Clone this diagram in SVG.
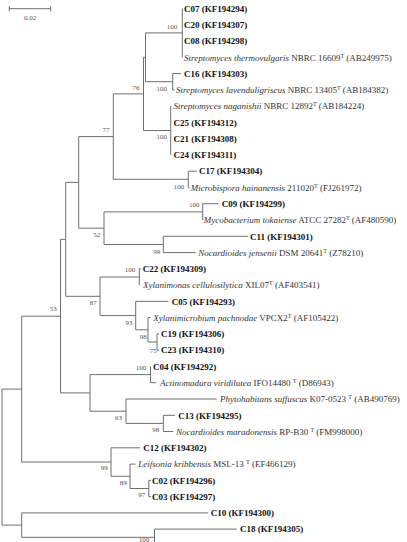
<svg xmlns="http://www.w3.org/2000/svg" width="407" height="542" viewBox="0 0 407 542">
<style>
text{font-family:"Liberation Serif","Times New Roman",serif;font-size:9px;fill:#333}
.b{font-weight:bold;fill:#111}
.i{font-style:italic}
.bs{font-size:7px;fill:#555;text-anchor:end}
.e{stroke:#6e6e6e;stroke-width:1;fill:none}
.sup{font-size:6px}
</style>
<rect width="407" height="542" fill="#fff"/>
<g id="scalebar">
<path class="e" d="M9.3,8.7H50.7M9.3,6V11.4M50.7,6V11.4"/>
<text x="30" y="19.5" style="font-size:7px;fill:#555" text-anchor="middle">0.02</text>
</g>
<g id="connectors">
<path class="e" d="M182.3,8.5V57.3"/>
<path class="e" d="M172.7,73.6V89.9M172.7,73.6H181M172.7,89.9H174.5"/>
<path class="e" d="M145.5,32.9V81.7M145.5,32.9H182.3M145.5,81.7H172.7"/>
<path class="e" d="M170.7,106.1V154.9"/>
<path class="e" d="M143.5,57.3V130.5M143.5,57.3H145.5M143.5,130.5H170.7"/>
<path class="e" d="M188.3,171.2V187.5M188.3,171.2H197M188.3,187.5H189.5"/>
<path class="e" d="M113.3,93.9V179.3M113.3,93.9H143.5M113.3,179.3H188.3"/>
<path class="e" d="M202.7,203.7V220M202.7,203.7H218.3"/>
<path class="e" d="M163.3,236.3V252.6M163.3,236.3H248.3M163.3,252.6H195.7"/>
<path class="e" d="M104,211.9V244.5M104,211.9H202.7M104,244.5H163.3"/>
<path class="e" d="M78.7,136.6V228.2M78.7,136.6H113.3M78.7,228.2H104"/>
<path class="e" d="M139.3,268.8V285.1M139.3,268.8H141"/>
<path class="e" d="M157,333.9V350.2M157,333.9H159M157,350.2H159"/>
<path class="e" d="M148,317.6V342M148,317.6H150.5M148,342H157"/>
<path class="e" d="M135.7,301.4V329.8M135.7,301.4H168.3M135.7,329.8H148"/>
<path class="e" d="M100,277V315.6M100,277H139.3M100,315.6H135.7"/>
<path class="e" d="M65.7,182.4V296.3M65.7,182.4H78.7M65.7,296.3H100"/>
<path class="e" d="M150.5,366.4V382.7M150.5,382.7H156"/>
<path class="e" d="M163.3,415.3V431.5M163.3,415.3H175M163.3,431.5H173.3"/>
<path class="e" d="M126,399V423.4M126,399H216.7M126,423.4H163.3"/>
<path class="e" d="M90,374.6V411.2M90,374.6H150.5M90,411.2H126"/>
<path class="e" d="M60.5,239.4V392.9M60.5,239.4H65.7M60.5,392.9H90"/>
<path class="e" d="M148.8,480.3V496.6M148.8,480.3H151M148.8,496.6H151"/>
<path class="e" d="M130,464.1V488.5M130,464.1H135.5M130,488.5H148.8"/>
<path class="e" d="M111,447.8V476.3M111,447.8H140M111,476.3H130"/>
<path class="e" d="M21.7,316.2V462M21.7,316.2H60.5M21.7,462H111"/>
<path class="e" d="M154.5,529.1V546M154.5,529.1H236.7"/>
<path class="e" d="M21.7,512.9V537.3M21.7,512.9H208.3M21.7,537.3H154.5"/>
<path class="e" d="M2,389.1V525.1M2,389.1H21.7M2,525.1H21.7"/>
</g>
<g id="bootstrap">
<text class="bs" x="177.3" y="28.5">100</text>
<text class="bs" x="167" y="90.8">100</text>
<text class="bs" x="167" y="139">100</text>
<text class="bs" x="139.5" y="89.5">76</text>
<text class="bs" x="109.5" y="131.5">77</text>
<text class="bs" x="184.3" y="188.5">100</text>
<text class="bs" x="199.6" y="207">100</text>
<text class="bs" x="160.2" y="253.5">99</text>
<text class="bs" x="100.2" y="236.8">52</text>
<text class="bs" x="135.3" y="271.5">100</text>
<text class="bs" x="96.8" y="304.8">87</text>
<text class="bs" x="132.5" y="325.2">93</text>
<text class="bs" x="146.8" y="338.5">98</text>
<text class="bs" x="156.8" y="352.5">75</text>
<text class="bs" x="56.8" y="310.8">53</text>
<text class="bs" x="146.3" y="370.2">100</text>
<text class="bs" x="122" y="419.5">63</text>
<text class="bs" x="159.2" y="431.8">98</text>
<text class="bs" x="107.8" y="470.2">99</text>
<text class="bs" x="126.8" y="484.5">89</text>
<text class="bs" x="145.2" y="497">97</text>
<text class="bs" x="149.3" y="541.5">100</text>
</g>
<g id="C07"><text class="b" x="184" y="11.7">C07 (KF194294)</text></g>
<g id="C20"><text class="b" x="184" y="28">C20 (KF194307)</text></g>
<g id="C08"><text class="b" x="184" y="44.2">C08 (KF194298)</text></g>
<g id="S_thermovulgaris"><text x="184" y="60.5"><tspan class="i">Streptomyces thermovulgaris</tspan> NBRC 16609<tspan class="sup" dy="-3">T</tspan><tspan dy="3"> (AB249975)</tspan></text></g>
<g id="C16"><text class="b" x="184" y="76.8">C16 (KF194303)</text></g>
<g id="S_lavenduligriseus"><text x="176" y="93.1"><tspan class="i">Streptomyces lavenduligriseus</tspan> NBRC 13405<tspan class="sup" dy="-3">T</tspan><tspan dy="3"> (AB184382)</tspan></text></g>
<g id="S_naganishii"><text x="173.5" y="109.3"><tspan class="i">Streptomyces naganishii</tspan> NBRC 12892<tspan class="sup" dy="-3">T</tspan><tspan dy="3"> (AB184224)</tspan></text></g>
<g id="C25"><text class="b" x="173.5" y="125.6">C25 (KF194312)</text></g>
<g id="C21"><text class="b" x="173.5" y="141.9">C21 (KF194308)</text></g>
<g id="C24"><text class="b" x="173.5" y="158.1">C24 (KF194311)</text></g>
<g id="C17"><text class="b" x="199" y="174.4">C17 (KF194304)</text></g>
<g id="M_hainanensis"><text x="190.7" y="190.7"><tspan class="i">Microbispora hainanensis</tspan> 211020<tspan class="sup" dy="-3">T</tspan><tspan dy="3"> (FJ261972)</tspan></text></g>
<g id="C09"><text class="b" x="221.7" y="206.9">C09 (KF194299)</text></g>
<g id="M_tokaiense"><text x="203.7" y="223.2"><tspan class="i">Mycobacterium tokaiense</tspan> ATCC 27282<tspan class="sup" dy="-3">T</tspan><tspan dy="3"> (AF480590)</tspan></text></g>
<g id="C11"><text class="b" x="250" y="239.5">C11 (KF194301)</text></g>
<g id="N_jensenii"><text x="198.3" y="255.8"><tspan class="i">Nocardioides jensenii</tspan> DSM 20641<tspan class="sup" dy="-3">T</tspan><tspan dy="3"> (Z78210)</tspan></text></g>
<g id="C22"><text class="b" x="142.7" y="272">C22 (KF194309)</text></g>
<g id="X_cellulosilytica"><text x="143" y="288.3"><tspan class="i">Xylanimonas cellulosilytica</tspan> XIL07<tspan class="sup" dy="-3">T</tspan><tspan dy="3"> (AF403541)</tspan></text></g>
<g id="C05"><text class="b" x="171.7" y="304.6">C05 (KF194293)</text></g>
<g id="X_pachnodae"><text x="153.3" y="320.8"><tspan class="i">Xylanimicrobium pachnodae</tspan> VPCX2<tspan class="sup" dy="-3">T</tspan><tspan dy="3"> (AF105422)</tspan></text></g>
<g id="C19"><text class="b" x="161" y="337.1">C19 (KF194306)</text></g>
<g id="C23"><text class="b" x="161" y="353.4">C23 (KF194310)</text></g>
<g id="C04"><text class="b" x="153" y="369.6">C04 (KF194292)</text></g>
<g id="A_viridilutea"><text x="160" y="385.9"><tspan class="i">Actinomadura viridilutea</tspan> IFO14480 <tspan class="sup" dy="-3">T</tspan><tspan dy="3"> (D86943)</tspan></text></g>
<g id="P_suffuscus"><text x="220" y="402.2"><tspan class="i">Phytohabitans suffuscus</tspan> K07-0523 <tspan class="sup" dy="-3">T</tspan><tspan dy="3"> (AB490769)</tspan></text></g>
<g id="C13"><text class="b" x="178.3" y="418.5">C13 (KF194295)</text></g>
<g id="N_maradonensis"><text x="176" y="434.7"><tspan class="i">Nocardioides maradonensis</tspan> RP-B30 <tspan class="sup" dy="-3">T</tspan><tspan dy="3"> (FM998000)</tspan></text></g>
<g id="C12"><text class="b" x="143.3" y="451">C12 (KF194302)</text></g>
<g id="L_kribbensis"><text x="138.3" y="467.3"><tspan class="i">Leifsonia kribbensis</tspan> MSL-13 <tspan class="sup" dy="-3">T</tspan><tspan dy="3"> (EF466129)</tspan></text></g>
<g id="C02"><text class="b" x="152" y="483.5">C02 (KF194296)</text></g>
<g id="C03"><text class="b" x="152" y="499.8">C03 (KF194297)</text></g>
<g id="C10"><text class="b" x="210.7" y="516.1">C10 (KF194300)</text></g>
<g id="C18"><text class="b" x="240" y="532.3">C18 (KF194305)</text></g>
</svg>
